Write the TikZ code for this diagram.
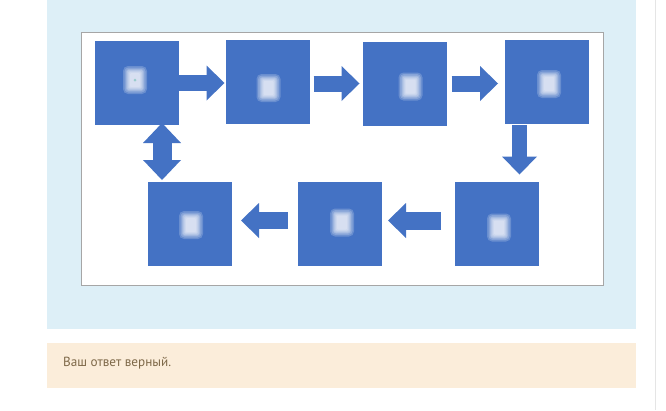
\documentclass[tikz,border=0pt]{standalone}
\usepackage{fontspec}
\setmainfont{PT Sans}
\usetikzlibrary{arrows.meta,calc}
\definecolor{panelblue}{HTML}{DDEFF7}
\definecolor{boxblue}{HTML}{4472C4}
\definecolor{beige}{HTML}{FBEDDA}
\definecolor{txtbrown}{HTML}{7D6848}
\definecolor{frame}{HTML}{A6A6A6}
\tikzset{
  sq/.style={fill=boxblue, draw=none, minimum width=84pt, minimum height=84pt, inner sep=0pt, outer sep=0pt},
  blockarrow/.style={draw=boxblue, line width=16pt,
    -{Triangle[length=18pt,width=35pt,line width=0pt]}},
  dblarrow/.style={draw=boxblue, line width=19pt,
    {Triangle[length=20pt,width=38pt,line width=0pt]}-{Triangle[length=20pt,width=38pt,line width=0pt]}},
  glow/.style={fill=white, opacity=0.2, draw=none},
}
\newcommand{\glyph}[1]{%
  \fill[glow, rounded corners=5pt] ($(#1)+(-12,-14)$) rectangle ($(#1)+(12,14)$);
  \fill[glow, rounded corners=4pt] ($(#1)+(-10.5,-12.5)$) rectangle ($(#1)+(10.5,12.5)$);
  \fill[glow, rounded corners=3pt] ($(#1)+(-9,-11)$) rectangle ($(#1)+(9,11)$);
  \fill[glow, rounded corners=2pt] ($(#1)+(-8,-10)$) rectangle ($(#1)+(8,10)$);
  \fill[glow, rounded corners=2pt] ($(#1)+(-7,-9)$) rectangle ($(#1)+(7,9)$);
  \fill[glow, rounded corners=1pt] ($(#1)+(-6,-8)$) rectangle ($(#1)+(6,8)$);
  \fill[glow, rounded corners=1pt] ($(#1)+(-5,-7)$) rectangle ($(#1)+(5,7)$);
}
\begin{document}
\begin{tikzpicture}[x=1pt,y=-1pt]
  \useasboundingbox (0,0) rectangle (666,410);
  \fill[white] (0,0) rectangle (666,410);
  % panels
  \fill[panelblue] (47,0) rectangle (636,329);
  \fill[beige] (47,343) rectangle (636,388);
  \draw[gray!20, line width=1pt] (655,0) -- (655,410);
  \node[anchor=base west, text=txtbrown, font=\fontsize{13.2}{15}\selectfont, inner sep=0pt] (msg) at (63,366) {Ваш ответ верный.};
  % picture frame
  \draw[frame, fill=white, line width=0.8pt] (81,32) rectangle (603,285);
  % squares
  \node[sq] (s1) at (137,83) {};
  \node[sq] (s2) at (267.5,82) {};
  \node[sq] (s3) at (404.5,83.5) {};
  \node[sq] (s4) at (547,82) {};
  \node[sq] (s5) at (190,224) {};
  \node[sq] (s6) at (340,223.5) {};
  \node[sq] (s7) at (497,223.5) {};
  % blurred glyphs
  \glyph{$(s1.center)+(-2,-3)$}
  \glyph{$(s2.center)+(1,6)$}
  \glyph{$(s3.center)+(6,3)$}
  \glyph{$(s4.center)+(2,2)$}
  \glyph{$(s5.center)+(1,1)$}
  \glyph{$(s6.center)+(2,-1)$}
  \glyph{$(s7.center)+(2,4)$}
  \fill[teal!40!white] ($(s1.center)+(-2,-3)$) circle (1.5);
  % arrows
  \draw[blockarrow, shorten >=1pt] (s1.east) -- (s1.east -| s2.west);
  \draw[blockarrow, shorten <=4pt, shorten >=3pt] (s2.east |- s3.west) -- (s3.west);
  \draw[blockarrow, shorten <=5pt, shorten >=7pt] (s3.east) -- (s3.east -| s4.west);
  \coordinate (d1) at ([xshift=14.5pt]s4.south west);
  \draw[blockarrow, line width=15pt, shorten <=1pt, shorten >=7pt] (d1) -- (d1 |- s7.north);
  \coordinate (l1) at ([yshift=3pt]s7.west);
  \draw[blockarrow, line width=18pt, shorten <=14pt, shorten >=6pt] (l1) -- (l1 -| s6.east);
  \coordinate (l2) at ([yshift=3pt]s6.west);
  \draw[blockarrow, line width=17pt, shorten <=10pt, shorten >=9pt] (l2) -- (l2 -| s5.east);
  \coordinate (u1) at ([xshift=-28pt]s5.north);
  \draw[dblarrow, shorten <=-2pt, shorten >=2pt] (u1 |- s1.south) -- (u1);
\end{tikzpicture}
\end{document}
